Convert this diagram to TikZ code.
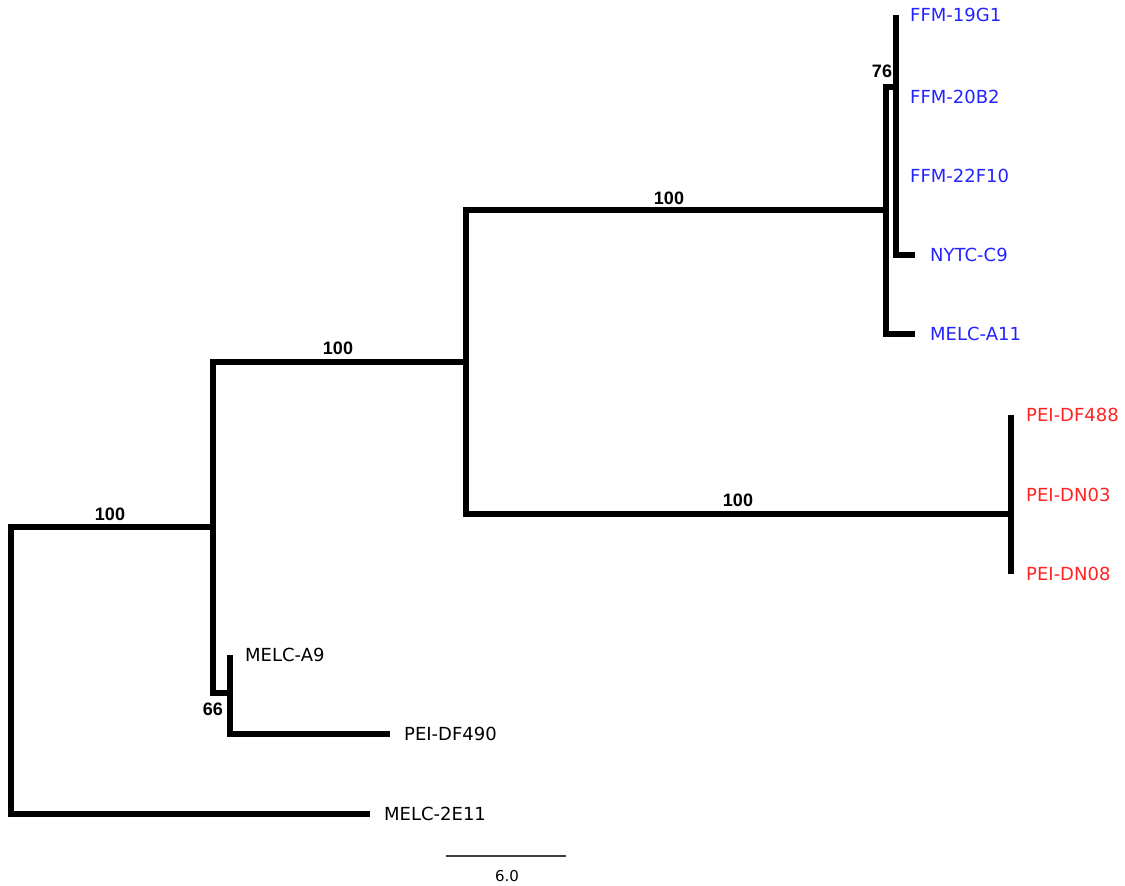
\documentclass[tikz,border=0pt]{standalone}
\usepackage{fontspec}
\setmainfont{DejaVu Sans}
\newfontfamily\bootfont{Liberation Sans}
\usetikzlibrary{positioning}
\definecolor{leafblue}{RGB}{35,35,255}
\definecolor{leafred}{RGB}{255,35,35}
\begin{document}
\begin{tikzpicture}[x=1pt, y=-1pt, line join=miter,
  branch/.style={line width=6pt, black},
  leaf/.style={inner sep=0pt, font=\fontsize{18}{18}\selectfont},
  boot/.style={inner sep=0pt, font=\bootfont\bfseries\fontsize{18}{18}\selectfont}]
  \useasboundingbox (0,0) rectangle (1125,886);
  \coordinate (root) at (11,600);
  \coordinate (nA) at (213,527);
  \coordinate (nB) at (466,362);
  \coordinate (nC) at (886,210);
  \coordinate (n76) at (896,87);
  \coordinate (nD) at (1011,514);
  \coordinate (n66) at (230,693);
  \coordinate (t19g1) at (896,15);
  \coordinate (t20b2) at (896,97);
  \coordinate (t22f10) at (896,176);
  \coordinate (tc9) at (915,255);
  \coordinate (ta11) at (915,334);
  \coordinate (tdf488) at (1011,415);
  \coordinate (tdn03) at (1011,495);
  \coordinate (tdn08) at (1011,574);
  \coordinate (ta9) at (230,655);
  \coordinate (tdf490) at (390,734);
  \coordinate (t2e11) at (370,814);
  \draw[branch] (nA) -| (root) |- (t2e11);
  \draw[branch] (nB) -| (nA) |- (n66);
  \draw[branch] (ta9) -- (n66) |- (tdf490);
  \draw[branch] (nC) -| (nB) |- (nD);
  \draw[branch] (n76) -| (nC) |- (ta11);
  \draw[branch] (t19g1) -- (n76) |- (tc9);
  \draw[branch] (tdf488) -- (tdn08);
  \node[leaf, text=leafblue, right=14pt of t19g1] (l19g1) {FFM-19G1};
  \node[leaf, text=leafblue, right=14pt of t20b2] (l20b2) {FFM-20B2};
  \node[leaf, text=leafblue, right=14pt of t22f10] (l22f10) {FFM-22F10};
  \node[leaf, text=leafblue, right=15pt of tc9] (lc9) {NYTC-C9};
  \node[leaf, text=leafblue, right=15pt of ta11] (la11) {MELC-A11};
  \node[leaf, text=leafred, right=15pt of tdf488] (ldf488) {PEI-DF488};
  \node[leaf, text=leafred, right=15pt of tdn03] (ldn03) {PEI-DN03};
  \node[leaf, text=leafred, right=15pt of tdn08] (ldn08) {PEI-DN08};
  \node[leaf, right=15pt of ta9] (la9) {MELC-A9};
  \node[leaf, right=14pt of tdf490] (ldf490) {PEI-DF490};
  \node[leaf, right=14pt of t2e11] (l2e11) {MELC-2E11};
  \node[boot] (bC) at (669,198) {100};
  \node[boot] (bB) at (338,348) {100};
  \node[boot] (bA) at (110,514) {100};
  \node[boot] (bD) at (738,500) {100};
  \node[boot] (b76) at (882,71) {76};
  \node[boot] (b66) at (213,709) {66};
  \coordinate (sbl) at (446,856);
  \coordinate (sbr) at (566,856);
  \draw[line width=1.3pt, black!75] (sbl) -- (sbr);
  \node[inner sep=0pt, font=\fontsize{15}{15}\selectfont] (sbtext) at (507,876) {6.0};
\end{tikzpicture}
\end{document}
